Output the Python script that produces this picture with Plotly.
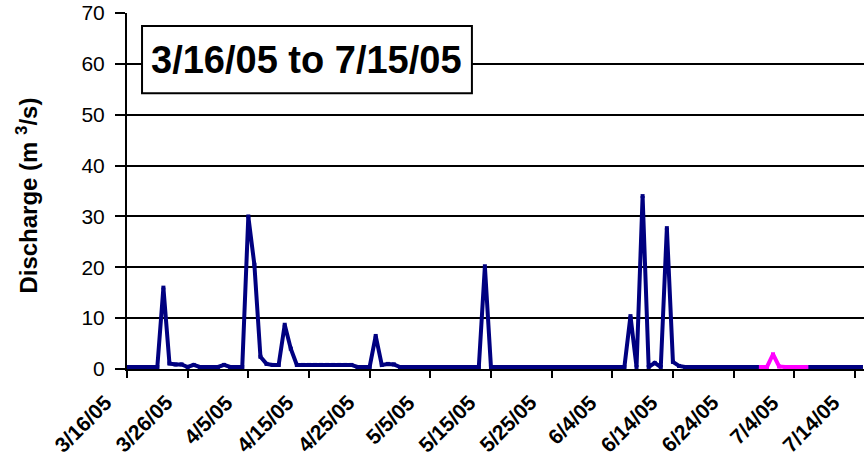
import pandas as pd
import plotly.graph_objects as go

# ---- data ----
start_date = "2005-03-16"
n_days = 122  # 3/16/05 .. 7/15/05
discharge_main = [
    0.4, 0.4, 0.4, 0.4, 0.4, 0.4, 16.0, 1.1, 0.9, 0.9,      # 3/16 - 3/25
    0.4, 0.8, 0.4, 0.4, 0.4, 0.4, 0.8, 0.4, 0.4, 0.4,       # 3/26 - 4/4
    30.0, 20.5, 2.4, 1.0, 0.8, 0.8, 8.7, 4.0, 0.8, 0.8,     # 4/5 - 4/14
    0.8, 0.8, 0.8, 0.8, 0.8, 0.8, 0.8, 0.8, 0.4, 0.4,       # 4/15 - 4/24
    0.4, 6.5, 0.8, 1.0, 0.9, 0.4, 0.4, 0.4, 0.4, 0.4,       # 4/25 - 5/4
    0.4, 0.4, 0.4, 0.4, 0.4, 0.4, 0.4, 0.4, 0.4, 20.2,      # 5/5 - 5/14
    0.4, 0.4, 0.4, 0.4, 0.4, 0.4, 0.4, 0.4, 0.4, 0.4,       # 5/15 - 5/24
    0.4, 0.4, 0.4, 0.4, 0.4, 0.4, 0.4, 0.4, 0.4, 0.4,       # 5/25 - 6/3
    0.4, 0.4, 0.4, 10.4, 0.4, 34.0, 0.4, 1.2, 0.4, 27.7,    # 6/4 - 6/13
    1.4, 0.6, 0.4, 0.4, 0.4, 0.4, 0.4, 0.4, 0.4, 0.4,       # 6/14 - 6/23
    0.4, 0.4, 0.4, 0.4, 0.4, None, None, None, None, None,  # 6/24 - 7/3
    None, None, 0.4, 0.4, 0.4, 0.4, 0.4, 0.4, 0.4, 0.4,     # 7/4 - 7/13
    0.4, 0.4,                                               # 7/14 - 7/15
]
estimated_dates = [
    "2005-06-28 12:00", "2005-06-29 12:00", "2005-06-30 12:00",
    "2005-07-01 12:00", "2005-07-02 12:00", "2005-07-03 12:00",
    "2005-07-04 12:00", "2005-07-05 12:00", "2005-07-06 00:00",
]
discharge_estimated = [0.4, 0.4, 2.9, 0.5, 0.4, 0.4, 0.4, 0.4, 0.4]

tick_dates = ["2005-03-16", "2005-03-26", "2005-04-05", "2005-04-15", "2005-04-25",
              "2005-05-05", "2005-05-15", "2005-05-25", "2005-06-04", "2005-06-14",
              "2005-06-24", "2005-07-04", "2005-07-14"]
tick_labels = ["3/16/05", "3/26/05", "4/5/05", "4/15/05", "4/25/05", "5/5/05",
               "5/15/05", "5/25/05", "6/4/05", "6/14/05", "6/24/05", "7/4/05", "7/14/05"]
y_ticks = [0, 10, 20, 30, 40, 50, 60, 70]
title_text = "3/16/05 to 7/15/05"
y_title = "Discharge (m <sup>3</sup>/s)"

dates = pd.date_range(start_date, periods=n_days, freq="D")
tick_x = pd.to_datetime(tick_dates)

FONT = "Liberation Sans, Arial, sans-serif"
NAVY = "#000080"
MAGENTA = "#FF00FF"

fig = go.Figure()
fig.add_trace(go.Scatter(
    x=dates, y=discharge_main, mode="lines+markers",
    line=dict(color=NAVY, width=4),
    marker=dict(color=NAVY, size=4, symbol="square"),
    connectgaps=False, showlegend=False, hoverinfo="skip"))
fig.add_trace(go.Scatter(
    x=pd.to_datetime(estimated_dates), y=discharge_estimated, mode="lines+markers",
    line=dict(color=MAGENTA, width=4),
    marker=dict(color=MAGENTA, size=4, symbol="square"),
    showlegend=False, hoverinfo="skip"))

fig.update_layout(
    width=865, height=456,
    margin=dict(l=127, r=1, t=13, b=87),
    paper_bgcolor="white", plot_bgcolor="white",
    font=dict(family=FONT, color="black"),
)
fig.update_xaxes(
    range=["2005-03-16 00:00", "2005-07-15 12:00"],
    tickmode="array", tickvals=tick_x, showticklabels=False,
    showgrid=False, zeroline=False,
    showline=True, linecolor="black", linewidth=2,
    ticks="outside", ticklen=7, tickwidth=2, tickcolor="black",
    automargin=False,
)
fig.update_yaxes(
    range=[0, 70], tickmode="array", tickvals=y_ticks,
    tickfont=dict(size=21, family=FONT, color="black"),
    showgrid=True, gridcolor="black", gridwidth=2, zeroline=False,
    showline=True, linecolor="black", linewidth=2,
    ticks="outside", ticklen=10, tickwidth=2, tickcolor="black",
    ticklabelstandoff=6, automargin=False, ticklabeloverflow="allow",
)

# rotated date labels under the ticks
for tx, tl in zip(tick_x, tick_labels):
    fig.add_annotation(x=tx, xref="x", y=0, yref="paper",
                       text="<b>" + tl + "</b>", showarrow=False, textangle=-45,
                       xanchor="right", yanchor="top", xshift=-8, yshift=-19,
                       font=dict(size=21, family=FONT, color="black"))

# title box
fig.add_shape(type="rect", xref="paper", yref="paper",
              x0=0.0204, x1=0.468, y0=0.7745, y1=0.9635,
              line=dict(color="black", width=2), fillcolor="white", layer="above")
fig.add_annotation(xref="paper", yref="paper", x=0.244, y=0.869,
                   text="<b>" + title_text + "</b>", showarrow=False,
                   font=dict(size=38, family=FONT, color="black"),
                   xanchor="center", yanchor="middle")
# y-axis title
fig.add_annotation(xref="paper", yref="paper", x=-0.1357, y=0.487,
                   text="<b>" + y_title + "</b>", showarrow=False, textangle=-90,
                   font=dict(size=24, family=FONT, color="black"),
                   xanchor="center", yanchor="middle")

fig.write_html(
    "out.html",
    config={"displayModeBar": False, "staticPlot": True},
    post_script="document.body.style.margin='0';document.body.style.overflow='hidden';",
)
